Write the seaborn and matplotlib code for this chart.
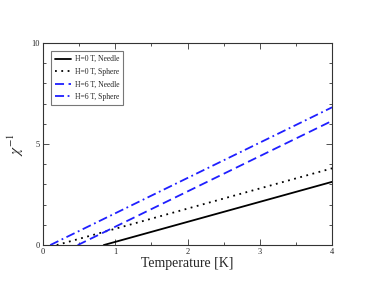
import numpy as np
import pandas as pd
import seaborn as sns
import matplotlib.pyplot as plt
from matplotlib.ticker import MultipleLocator

# endpoints of the straight lines (zero crossing, T=4)
labels = ['H=0 T, Needle', 'H=0 T, Sphere', 'H=6 T, Needle', 'H=6 T, Sphere']
temp_start = [0.84, 0.19, 0.48, 0.10]
temp_end = [4.0, 4.0, 4.0, 4.0]
chi_start = [0.0, 0.0, 0.0, 0.0]
chi_end = [3.13, 3.80, 6.15, 6.82]

colors = ['black', 'black', '#1f1fff', '#1f1fff']
dashes = ['-', (0, (1, 2.5)), (0, (5, 2.5)), (0, (5, 2, 1, 2))]

rows = []
for lab, t0, t1, c0, c1 in zip(labels, temp_start, temp_end, chi_start, chi_end):
    rows.append({'series': lab, 'T': t0, 'chi': c0})
    rows.append({'series': lab, 'T': t1, 'chi': c1})
df = pd.DataFrame(rows)

sns.set_style("ticks")
plt.rcParams['font.family'] = ['Liberation Serif', 'DejaVu Serif']
plt.rcParams['mathtext.fontset'] = 'stix'

fig = plt.figure(figsize=(3.74, 2.89), dpi=100)
ax = fig.add_axes([0.115, 0.152, 0.773, 0.699])

for lab, col, ls in zip(labels, colors, dashes):
    sns.lineplot(data=df[df['series'] == lab], x='T', y='chi', ax=ax,
                 color=col, linestyle=ls, linewidth=1.3, label=lab)

ax.set_xlim(0, 4)
ax.set_ylim(0, 10)
ax.xaxis.set_major_locator(MultipleLocator(1))
ax.xaxis.set_minor_locator(MultipleLocator(0.5))
ax.yaxis.set_major_locator(MultipleLocator(5))
ax.yaxis.set_minor_locator(MultipleLocator(1))
ax.tick_params(which='both', direction='in', top=True, right=True,
               labelsize=6, width=0.6, color='#333333', pad=2)
ax.tick_params(which='major', length=4)
ax.tick_params(which='minor', length=2)
for sp in ax.spines.values():
    sp.set_linewidth(0.8)
    sp.set_color('#333333')

ax.set_xlabel('Temperature [K]', fontsize=10, labelpad=1)
ax.set_ylabel(r'$\chi^{-1}$', fontsize=11, labelpad=4)

leg = ax.legend(loc='upper left', fontsize=5.5, frameon=True, fancybox=False,
                edgecolor='#555555', handlelength=2, borderaxespad=1.1,
                labelspacing=0.6, borderpad=0.5, handletextpad=0.6)
leg.get_frame().set_linewidth(0.8)

fig.savefig('out.png', dpi=100)
